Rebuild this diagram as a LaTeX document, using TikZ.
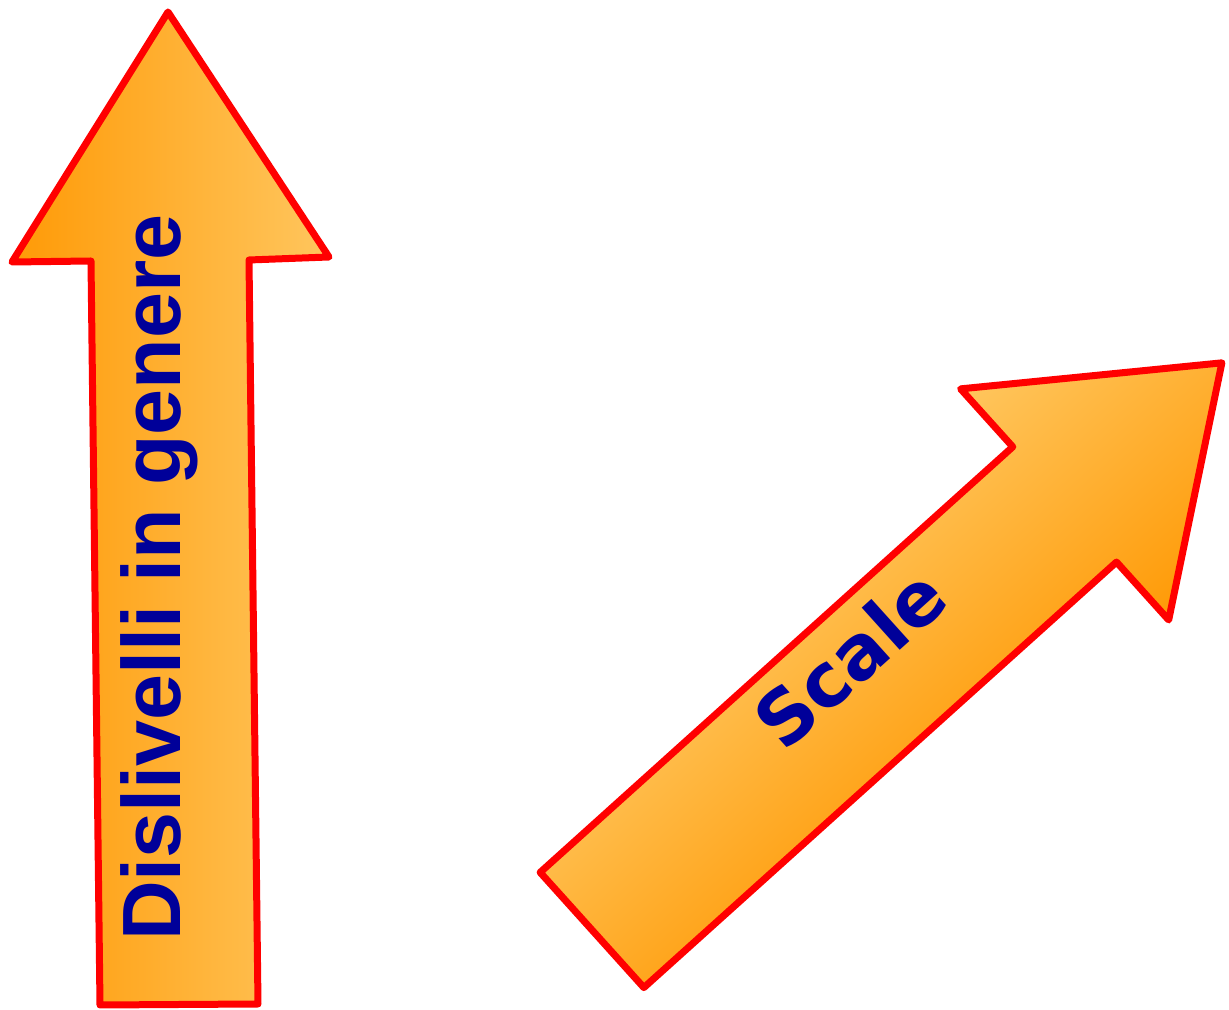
\documentclass[tikz,border=0pt]{standalone}
\usepackage{fontspec}
\newfontfamily\labelfont{Liberation Sans}
\newfontfamily\scalefont{DejaVu Sans}
\definecolor{arrowdark}{HTML}{FF9A06}
\definecolor{arrowlight}{HTML}{FFC65E}
\definecolor{edgered}{HTML}{FF0000}
\definecolor{textblue}{HTML}{000099}
\tikzset{
  arrowshape/.style={draw=edgered, line width=7bp, line join=round},
  arrowlabel/.style={text=textblue, inner sep=0pt, font=\bfseries}
}
\begin{document}
\begin{tikzpicture}[x=1bp, y=1bp]
\useasboundingbox (0,0) rectangle (1229,1010);

% upright arrow, shaded from left to right
\shade[arrowshape, left color=arrowdark, right color=arrowlight]
  (168,998) -- (329,753) -- (249,750) -- (258,6) -- (100,5) -- (91,749) -- (12,748) -- cycle;
\node[arrowlabel, rotate=90, anchor=base west, font=\labelfont\bfseries\fontsize{83}{90}\selectfont]
  (up) at (180,69) {Dislivelli in genere};

% slanted arrow, drawn along its own axis and turned by 42 degrees
\begin{scope}[transform canvas={shift={(592,80)}, rotate=42}]
  \shade[arrowshape, top color=arrowlight, bottom color=arrowdark]
    (0,77.5) -- (636,77.5) -- (636,155.5) -- (847.6,0) -- (636,-155.5) -- (636,-77.5) -- (0,-77.5) -- cycle;
  \node[arrowlabel, anchor=base west, font=\scalefont\bfseries\fontsize{75}{80}\selectfont]
    (scale) at (261,2) {Scale};
\end{scope}
\end{tikzpicture}
\end{document}
